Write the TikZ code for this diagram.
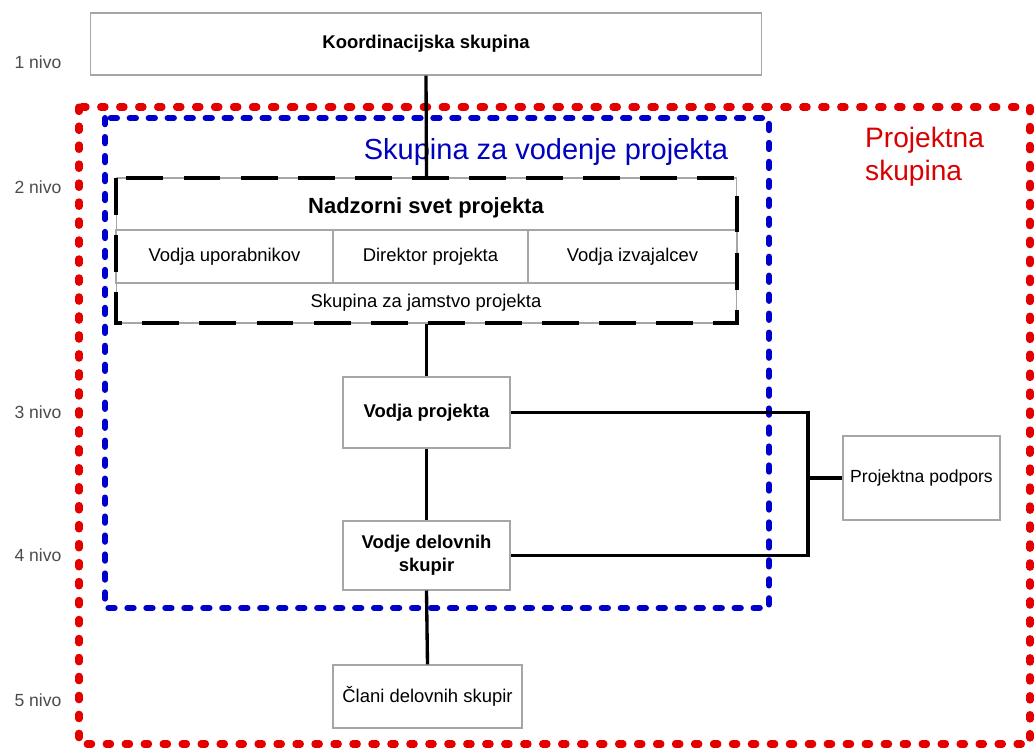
\documentclass[tikz,border=0pt]{standalone}
\usepackage{fontspec}
\setmainfont{Liberation Sans}
\usepackage{tikz}
\tikzset{
  box/.style={draw=gray!70,line width=0.6pt,fill=white,inner sep=2pt,align=center,
    font=\fontsize{10.5}{12}\selectfont},
  bbox/.style={box,font=\bfseries\fontsize{10.5}{13}\selectfont},
  cell/.style={draw=gray!70,line width=0.6pt,inner sep=0pt,font=\fontsize{10.5}{12}\selectfont},
  nivo/.style={text=gray!60!black,font=\fontsize{10}{12}\selectfont},
  conn/.style={line width=1.9pt},
}
\begin{document}
\begin{tikzpicture}[x=0.02cm,y=-0.02cm]
      \useasboundingbox[fill=white] (0,0) rectangle (1036,749);

      % levels
      \node[nivo] (n1) at (38,62) {1 nivo};
      \node[nivo] (n2) at (38,187) {2 nivo};
      \node[nivo] (n3) at (38,412) {3 nivo};
      \node[nivo] (n4) at (38,555) {4 nivo};
      \node[nivo] (n5) at (38,700) {5 nivo};

      % groups
      \draw[red!90!black,line width=4pt,line cap=round,dash pattern=on 2.6pt off 8.2pt] (79,107) rectangle (1030,744);
      \draw[blue!80!black,line width=3.4pt,line cap=round,dash pattern=on 3.6pt off 7.2pt] (105,118) rectangle (769,608);
      \node[text=blue!75!black,font=\fontsize{16.5}{19}\selectfont] (svp) at (546,152) {Skupina za vodenje projekta};
      \node[text=red!85!black,align=left,anchor=west,font=\fontsize{16}{19}\selectfont] (ps) at (859,157) {Projektna\\skupina};

      % boxes
      \node[bbox,minimum width=13.44cm,minimum height=1.24cm] (koord) at (426,44) {Koordinacijska skupina};
      \node[box,minimum width=12.42cm,minimum height=2.9cm] (nsp) at (426.5,250.5) {};
      \node[font=\bfseries\fontsize{12.5}{14}\selectfont] (nspt) at (426,208) {Nadzorni svet projekta};
      \node[cell,minimum width=4.34cm,minimum height=1.06cm] (vu) at (224.5,256.5) {Vodja uporabnikov};
      \node[cell,minimum width=3.9cm,minimum height=1.06cm] (dp) at (430.5,256.5) {Direktor projekta};
      \node[cell,minimum width=4.18cm,minimum height=1.06cm] (vi) at (632.5,256.5) {Vodja izvajalcev};
      \node[font=\fontsize{10.5}{12}\selectfont] (sjp) at (426,303) {Skupina za jamstvo projekta};
      \draw[line width=2.8pt,dash pattern=on 21pt off 11.5pt] (116,178) rectangle (737,323);

      \node[bbox,minimum width=3.34cm,minimum height=1.42cm] (vp) at (426.5,412.5) {Vodja projekta};
      \node[bbox,minimum width=3.34cm,minimum height=1.38cm] (vds) at (426.5,555.5) {Vodje delovnih\\skupir};
      \node[box,minimum width=3.78cm,minimum height=1.26cm] (cds) at (427.5,696.5) {Člani delovnih skupir};
      \node[box,minimum width=3.14cm,minimum height=1.68cm,font=\fontsize{10}{12}\selectfont] (pp) at (921.5,478) {Projektna podpors};
      \coordinate (brk) at (808,478);

      \path (koord.south) edge[conn] (nsp.north);
      \path (nsp.south) edge[conn] (vp.north);
      \path (vp.south) edge[conn] (vds.north);
      \path (vds.south) edge[conn] (cds.north);
      \draw[conn] (vp.east) -| (brk) |- (vds.east);
      \path (brk) edge[conn] (pp.west);
\end{tikzpicture}
\end{document}
